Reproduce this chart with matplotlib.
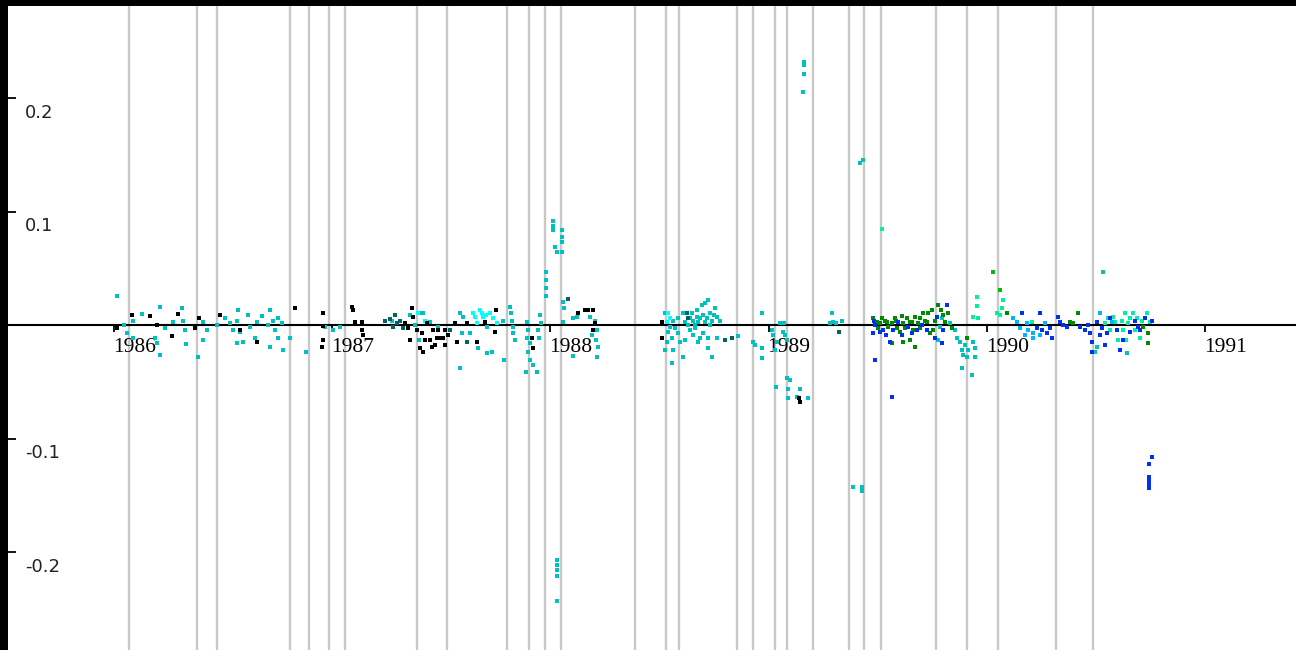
import matplotlib
matplotlib.use("Agg")
import matplotlib.pyplot as plt
import matplotlib.transforms as mtransforms

# vertical marker lines (decimal years)
event_years = [1986.069, 1986.380, 1986.472, 1986.807, 1986.894, 1986.986, 1987.059,
               1987.389, 1987.526, 1987.801, 1987.902, 1987.975, 1988.049, 1988.388,
               1988.530, 1988.589, 1988.855, 1988.928, 1989.029, 1989.084, 1989.203,
               1989.368, 1989.437, 1989.515, 1989.767, 1989.909, 1990.051, 1990.317,
               1990.487]

year_ticks = [1986, 1987, 1988, 1989, 1990, 1991]
value_ticks = [0.2, 0.1, -0.1, -0.2]
value_labels = ["0.2", "0.1", "-0.1", "-0.2"]

black_x = [1986.014, 1986.082, 1986.165, 1986.197, 1986.266, 1986.293, 1986.371, 1986.390,
           1986.486, 1986.577, 1986.655, 1986.830, 1986.958, 1986.958, 1986.958, 1986.953,
           1987.091, 1987.095, 1987.104, 1987.137, 1987.137, 1987.141, 1987.334, 1987.366,
           1987.370, 1987.389, 1987.412, 1987.434, 1987.462, 1987.480, 1987.494, 1987.508,
           1987.402, 1987.416, 1987.457, 1987.563, 1987.572, 1987.618, 1987.664, 1987.700,
           1987.751, 1987.746, 1987.916, 1987.920, 1988.127, 1988.159, 1988.172, 1988.195,
           1988.204, 1988.195, 1988.511, 1988.511, 1989.139, 1989.144, 1987.448, 1987.517,
           1987.357, 1987.531, 1987.347, 1987.425, 1987.471, 1987.485, 1987.517]
black_y = [-0.003, 0.009, 0.008, 0.000, -0.010, 0.010, -0.003, 0.006,
           0.009, -0.004, -0.015, 0.015, 0.011, -0.001, -0.013, -0.019,
           0.016, 0.013, 0.003, 0.003, -0.004, -0.009, 0.002, 0.015,
           0.007, -0.004, -0.007, 0.002, -0.004, -0.011, -0.011, -0.011,
           -0.020, -0.024, -0.019, 0.002, -0.015, 0.002, -0.015, 0.003,
           0.013, -0.006, -0.011, -0.020, 0.011, 0.013, 0.013, 0.013,
           0.002, -0.004, 0.003, -0.011, -0.064, -0.068, -0.013, -0.018,
           -0.013, -0.009, -0.003, -0.013, -0.018, -0.004, -0.004]

teal_x = [1987.265, 1987.297, 1987.311, 1987.279, 1987.540, 1987.618, 1988.081, 1988.626,
          1988.631, 1988.800, 1988.832, 1989.323, 1986.830, 1987.242, 1987.288, 1987.325]
teal_y = [0.005, 0.002, 0.004, -0.002, -0.004, -0.015, 0.023, 0.011,
          0.006, -0.013, -0.011, -0.006, 0.015, 0.004, 0.009, -0.003]

cyan_x = [1986.014, 1986.046, 1986.060, 1986.087, 1986.087, 1986.128, 1986.211, 1986.188,
          1986.197, 1986.211, 1986.270, 1986.312, 1986.316, 1986.325, 1986.330, 1986.408,
          1986.426, 1986.408, 1986.385, 1986.472, 1986.532, 1986.545, 1986.568, 1986.564,
          1986.577, 1986.564, 1986.591, 1986.614, 1986.623, 1986.646, 1986.655, 1986.678,
          1986.715, 1986.706, 1986.729, 1986.738, 1986.752, 1986.770, 1986.752, 1986.715,
          1986.775, 1986.807, 1986.880, 1986.967, 1987.004, 1987.036, 1987.274, 1986.234,
          1986.509,
          1987.402, 1987.416, 1987.448, 1987.485, 1987.398, 1987.586, 1987.586, 1987.600,
          1987.595, 1987.632, 1987.668, 1987.709, 1987.709, 1987.732, 1987.783, 1987.787,
          1987.815, 1987.819, 1987.824, 1987.829, 1987.829, 1987.838, 1987.893, 1987.897,
          1987.893, 1987.907, 1987.897, 1987.907, 1987.888, 1987.939, 1987.920, 1987.952,
          1987.957, 1987.943, 1987.948, 1987.980, 1987.980, 1987.980, 1987.980, 1988.012,
          1988.012, 1988.012, 1988.053, 1988.053, 1988.053, 1988.021, 1988.030, 1988.053,
          1988.030, 1988.030, 1988.030, 1988.030, 1988.030, 1988.058, 1988.062, 1988.058,
          1988.104, 1988.122, 1988.182, 1988.204, 1988.214, 1988.191, 1988.209, 1988.218,
          1988.214, 1988.104, 1987.380, 1987.357,
          1988.525, 1988.548, 1988.539, 1988.534, 1988.557, 1988.562, 1988.571, 1988.585,
          1988.594, 1988.562, 1988.557, 1988.525, 1988.608, 1988.608, 1988.649, 1988.654,
          1988.672, 1988.677, 1988.695, 1988.709, 1988.722, 1988.699, 1988.718, 1988.731,
          1988.741, 1988.754, 1988.764, 1988.640, 1988.654, 1988.677, 1988.699, 1988.722,
          1988.722, 1988.741, 1988.764, 1988.663, 1988.631, 1988.672, 1988.860, 1988.929,
          1988.938, 1988.970, 1988.970, 1988.970, 1989.016, 1989.020, 1989.039, 1989.029,
          1989.052, 1989.071, 1989.066, 1989.075, 1989.084, 1989.034, 1989.084, 1989.098,
          1989.089, 1989.089, 1989.130, 1989.144, 1989.181, 1989.162, 1989.162, 1989.162,
          1989.158, 1989.291, 1989.296, 1989.281, 1989.309, 1989.336, 1989.419, 1989.433,
          1989.387, 1989.428, 1989.428,
          1988.585, 1988.617, 1988.640, 1988.663, 1988.686, 1988.709, 1988.731, 1988.750,
          1988.777, 1988.617, 1988.686,
          1989.795, 1989.786, 1989.776, 1989.831, 1989.854, 1989.863, 1989.877, 1989.886,
          1989.900, 1989.891, 1989.914, 1989.937, 1989.946, 1989.909, 1989.946, 1989.886,
          1989.932, 1990.533, 1990.643, 1990.496, 1990.505]
cyan_y = [0.026, 0.000, -0.007, -0.011, 0.004, 0.010, 0.016, -0.011,
          -0.016, -0.026, 0.003, 0.015, 0.004, -0.004, -0.017, 0.003,
          -0.004, -0.013, -0.028, 0.000, 0.002, -0.004, 0.013, 0.004,
          -0.006, -0.016, -0.015, 0.009, -0.002, -0.011, 0.003, 0.008,
          0.013, 0.000, 0.004, -0.004, 0.006, 0.002, -0.011, -0.019,
          -0.022, -0.011, -0.024, -0.002, -0.004, -0.002, 0.004, -0.003,
          0.006,
          0.011, 0.011, 0.003, -0.002, -0.013, -0.038, 0.011, 0.007,
          -0.007, -0.007, -0.020, -0.002, -0.025, -0.024, 0.004, -0.031,
          0.016, 0.011, 0.004, -0.002, -0.007, -0.013, 0.003, -0.004,
          -0.011, -0.016, -0.024, -0.031, -0.041, -0.041, -0.035, 0.009,
          0.002, -0.004, -0.011, 0.047, 0.040, 0.033, 0.026, 0.092,
          0.087, 0.084, 0.084, 0.078, 0.073, 0.069, 0.064, 0.064,
          -0.207, -0.211, -0.216, -0.221, -0.243, 0.020, 0.015, 0.003,
          0.006, 0.007, 0.007, 0.004, -0.004, -0.009, -0.013, -0.019,
          -0.028, -0.027, 0.000, 0.009,
          0.011, -0.002, -0.006, -0.015, -0.011, 0.004, -0.003, -0.007,
          -0.015, -0.022, -0.033, -0.022, -0.028, 0.011, 0.011, 0.004,
          0.007, 0.003, 0.018, 0.019, 0.022, 0.009, 0.006, 0.011,
          0.004, 0.015, 0.007, -0.004, -0.009, -0.015, -0.007, -0.011,
          -0.020, -0.028, -0.011, 0.000, 0.000, 0.013, -0.010, -0.015,
          -0.018, 0.011, -0.020, -0.029, -0.004, -0.009, -0.015, -0.022,
          0.002, 0.002, -0.006, -0.009, -0.013, -0.055, -0.047, -0.048,
          -0.056, -0.064, -0.063, -0.056, -0.064, 0.232, 0.229, 0.221,
          0.205, 0.011, 0.003, 0.002, 0.002, 0.004, 0.143, 0.145,
          -0.143, -0.143, -0.146,
          0.006, 0.003, 0.006, -0.003, 0.006, 0.003, 0.000, 0.009,
          0.004, -0.013, -0.011,
          0.006, -0.002, -0.013, 0.002, -0.004, -0.011, -0.015, -0.022,
          -0.018, -0.026, -0.022, -0.015, -0.020, -0.028, -0.028, -0.038,
          -0.044, 0.047, -0.025, -0.024, -0.019]

bright_x = [1987.645, 1987.664, 1987.687, 1987.691, 1987.723, 1987.755, 1988.539, 1988.534,
            1988.548, 1987.393, 1987.425, 1987.654, 1987.705, 1987.737, 1987.677]
bright_y = [0.011, 0.002, 0.011, 0.007, 0.011, 0.002, 0.011, 0.003,
            0.006, 0.011, 0.004, 0.007, 0.009, 0.006, 0.013]

green_x = [1989.478, 1989.497, 1989.511, 1989.547, 1989.566, 1989.589, 1989.602, 1989.616,
           1989.634, 1989.657, 1989.671, 1989.685, 1989.708, 1989.717, 1989.740, 1989.749,
           1989.763, 1989.776, 1989.799, 1989.822, 1989.753, 1989.648, 1989.616, 1989.671,
           1989.566, 1989.841, 1989.909, 1990.093, 1990.381, 1990.395, 1990.418, 1990.716,
           1990.739, 1990.739, 1989.533, 1989.579, 1989.694, 1989.625,
           1989.501, 1989.520, 1989.542, 1989.584, 1989.611, 1989.648, 1989.662, 1989.694,
           1989.726, 1989.790, 1989.808, 1989.731]
green_y = [0.006, 0.003, 0.002, -0.002, 0.002, -0.003, -0.006, 0.002,
           0.006, 0.003, 0.007, 0.002, 0.011, 0.004, -0.007, 0.013,
           0.004, 0.018, 0.009, 0.011, -0.004, -0.013, -0.015, -0.019,
           -0.016, -0.003, -0.011, 0.011, 0.003, 0.002, 0.011, -0.002,
           -0.007, -0.016, 0.004, 0.006, -0.003, -0.003,
           -0.003, 0.006, 0.003, 0.004, 0.008, 0.003, -0.004, 0.006,
           0.003, 0.013, 0.003, 0.011]

lime_x = [1990.061, 1990.028]
lime_y = [0.031, 0.047]

blue_x = [1989.488, 1989.478, 1989.524, 1989.570, 1989.593, 1989.639, 1989.680, 1989.703,
          1989.726, 1989.772, 1989.818, 1989.799, 1989.795, 1989.556, 1989.488, 1989.566,
          1990.161, 1990.244, 1990.230, 1990.253, 1990.276, 1990.290, 1990.299, 1990.326,
          1990.336, 1990.349, 1990.368, 1990.427, 1990.450, 1990.464, 1990.473, 1990.482,
          1990.482, 1990.505, 1990.528, 1990.551, 1990.597, 1990.610, 1990.656, 1990.693,
          1990.725, 1990.757, 1990.743, 1990.743, 1990.743, 1990.743, 1990.743,
          1989.511, 1989.538, 1989.611, 1989.657, 1989.763, 1989.483,
          1990.565, 1990.624, 1990.679, 1990.702, 1990.757, 1990.519, 1990.542]
blue_y = [0.000, -0.007, -0.004, -0.004, 0.003, -0.002, -0.004, 0.000,
          -0.004, 0.007, 0.018, -0.004, -0.016, -0.015, -0.031, -0.063,
          0.011, 0.011, -0.003, -0.004, -0.007, -0.003, -0.011, 0.007,
          0.003, 0.000, -0.002, -0.002, -0.004, 0.000, -0.007, -0.015,
          -0.024, 0.003, -0.003, -0.007, -0.004, -0.022, -0.006, -0.002,
          0.006, -0.116, -0.122, -0.134, -0.137, -0.141, -0.144,
          -0.006, -0.009, -0.009, -0.007, -0.011, 0.004,
          0.006, -0.013, 0.004, -0.004, 0.004, -0.009, -0.018]

sky_x = [1990.212, 1990.212, 1990.184, 1990.138, 1990.120, 1990.267, 1990.519, 1990.574,
         1990.189, 1990.152, 1990.175, 1990.244]
sky_y = [-0.007, -0.011, 0.002, 0.003, 0.006, 0.002, 0.011, 0.003,
         -0.004, -0.003, -0.009, -0.009]

mint_x = [1989.955, 1989.955, 1989.937, 1989.960, 1990.074, 1990.047, 1990.070, 1990.061,
          1990.207, 1990.542, 1990.578, 1990.601, 1990.633, 1990.647, 1990.670, 1990.688,
          1990.734, 1990.702, 1989.520, 1990.620, 1990.555, 1990.679,
          1990.587, 1990.624, 1990.656, 1990.711, 1990.748, 1990.565, 1990.638]
mint_y = [0.025, 0.017, 0.007, 0.006, 0.022, 0.011, 0.015, 0.009,
          0.003, 0.002, 0.007, -0.013, 0.011, 0.002, 0.011, 0.006,
          0.011, -0.011, 0.085, 0.004, 0.006, -0.004,
          0.003, -0.004, 0.006, 0.004, 0.003, -0.004, -0.013]

W, H = 1296, 650
fig = plt.figure(figsize=(W / 100, H / 100), dpi=100, facecolor="black")
ax = fig.add_axes([8 / W, 0, 1 - 8 / W, 1 - 6 / H])
ax.set_facecolor("white")
ax.set_xlim(1985.514, 1991.417)
ax.set_ylim(-0.2863, 0.2811)

for sp in ["top", "right", "left"]:
    ax.spines[sp].set_visible(False)
ax.spines["bottom"].set_position(("data", 0))
ax.spines["bottom"].set_linewidth(1.5)
ax.spines["bottom"].set_zorder(2)

for yr in event_years:
    ax.axvline(yr, color="#c8c8c8", lw=1.7, zorder=0)

# x ticks on the zero line, labels left-aligned below
ax.set_xticks(year_ticks)
ax.set_xticklabels([str(y) for y in year_ticks], fontfamily="Liberation Serif",
                   fontsize=15.5, color="#000000")
ax.tick_params(axis="x", direction="out", length=5, width=1.3, pad=4)
offset = mtransforms.ScaledTranslation(-1 / 100, 0, fig.dpi_scale_trans)
for lbl in ax.get_xticklabels():
    lbl.set_horizontalalignment("left")
    lbl.set_transform(lbl.get_transform() + offset)

# y ticks inward on the left edge, labels to the right
ax.set_yticks(value_ticks)
ax.tick_params(axis="y", direction="in", length=6, width=1.3, labelleft=False, left=True)
ax.spines["left"].set_visible(True)
ax.spines["left"].set_linewidth(0)
blend = mtransforms.blended_transform_factory(ax.transAxes, ax.transData)
for v, t in zip(value_ticks, value_labels):
    ax.annotate(t, (0, v), xycoords=blend, xytext=(12.5, -4), textcoords="offset points",
                ha="left", va="top", fontsize=13, fontfamily="DejaVu Sans", color="#222222")

kw = dict(marker="s", s=7, linewidths=0, zorder=3)
ax.scatter(cyan_x, cyan_y, color="#00c0c0", **kw)
ax.scatter(bright_x, bright_y, color="#00ffff", **kw)
ax.scatter(teal_x, teal_y, color="#006464", **kw)
ax.scatter(black_x, black_y, color="#000000", **kw)
ax.scatter(mint_x, mint_y, color="#00f0a0", **kw)
ax.scatter(sky_x, sky_y, color="#00b4ff", **kw)
ax.scatter(green_x, green_y, color="#008a00", **kw)
ax.scatter(lime_x, lime_y, color="#00c000", **kw)
ax.scatter(blue_x, blue_y, color="#0030f0", **kw)

fig.savefig("out.png", dpi=100, facecolor=fig.get_facecolor())
